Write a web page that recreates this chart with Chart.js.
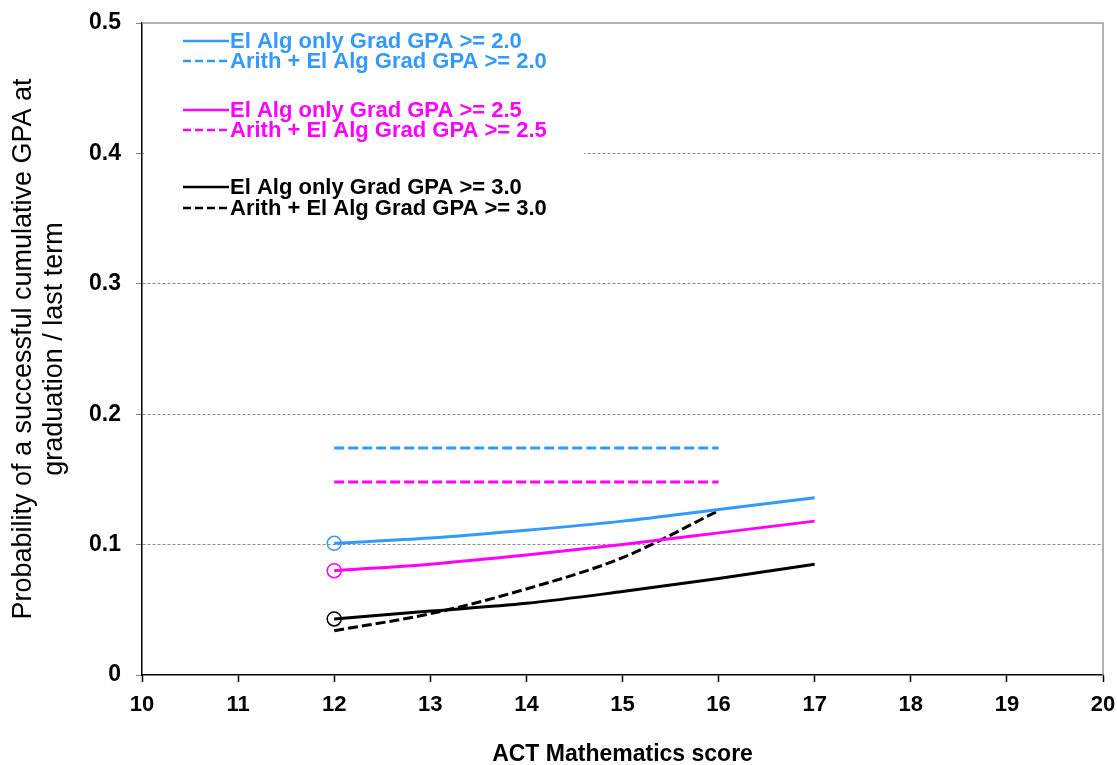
<!DOCTYPE html>
<html lang="en">
<head>
  <meta charset="UTF-8" />
  <title>Probability of a successful GPA by ACT Math score</title>
  <script src="https://cdn.jsdelivr.net/npm/chart.js"></script>
  <style>
    html, body { margin: 0; padding: 0; background: #fff; }
    .chart-container { width: 1117px; height: 765px; }
  </style>
</head>
<body>
<div class="chart-container">
  <canvas id="gpaChart"></canvas>
</div>

<script>
  // ACT math scores used for each series
  const scoresFull = [12, 13, 14, 15, 16, 17];
  const scoresArith = [12, 13, 14, 15, 16];

  // Probabilities
  const elAlg20 = [0.101, 0.105, 0.111, 0.118, 0.127, 0.136];
  const arith20 = [0.174, 0.174, 0.174, 0.174, 0.174];
  const elAlg25 = [0.080, 0.085, 0.092, 0.100, 0.109, 0.118];
  const arith25 = [0.148, 0.148, 0.148, 0.148, 0.148];
  const elAlg30 = [0.043, 0.049, 0.055, 0.064, 0.074, 0.085];
  const arith30 = [0.034, 0.047, 0.066, 0.090, 0.126];

  const blue = "#3399ff";
  const pink = "#ff00ff";
  const black = "#000000";
  const FONT = "'Liberation Sans', Arial, sans-serif";

  const toPoints = (xs, ys) => xs.map((x, i) => ({ x: x, y: ys[i] }));

  function solid(label, color, ys) {
    return {
      label: label,
      data: toPoints(scoresFull, ys),
      borderColor: color,
      borderWidth: 3,
      cubicInterpolationMode: "monotone",
      pointRadius: ys.map((v, i) => i === 0 ? 7 : 0),
      pointBorderWidth: 1.5,
      pointBorderColor: color,
      pointBackgroundColor: "rgba(0,0,0,0)",
      fill: false
    };
  }

  function dashed(label, color, ys) {
    return {
      label: label,
      data: toPoints(scoresArith, ys),
      borderColor: color,
      borderWidth: 3,
      borderDash: [10, 4],
      cubicInterpolationMode: "monotone",
      pointRadius: 0,
      fill: false
    };
  }

  const datasets = [
    solid("El Alg only Grad GPA >= 2.0", blue, elAlg20),
    dashed("Arith + El Alg Grad GPA >= 2.0", blue, arith20),
    solid("El Alg only Grad GPA >= 2.5", pink, elAlg25),
    dashed("Arith + El Alg Grad GPA >= 2.5", pink, arith25),
    solid("El Alg only Grad GPA >= 3.0", black, elAlg30),
    dashed("Arith + El Alg Grad GPA >= 3.0", black, arith30)
  ];

  // top/right gray frame and the boxed legend in the upper left
  const frameAndLegend = {
    id: "frameAndLegend",
    afterDraw(chart) {
      const ctx = chart.ctx;
      const a = chart.chartArea;
      ctx.save();
      ctx.strokeStyle = "#999";
      ctx.lineWidth = 1.5;
      ctx.beginPath();
      ctx.moveTo(a.left, a.top);
      ctx.lineTo(a.right, a.top);
      ctx.lineTo(a.right, a.bottom);
      ctx.stroke();

      // white box hides the grid behind the legend
      ctx.fillStyle = "#fff";
      ctx.fillRect(a.left + 2, a.top + 3, 440, 200);

      const rowsY = [41, 61, 110, 130, 187, 208];
      ctx.font = "bold 22px " + FONT;
      ctx.textBaseline = "middle";
      chart.data.datasets.forEach((ds, i) => {
        const y = rowsY[i];
        ctx.strokeStyle = ds.borderColor;
        ctx.lineWidth = 2.5;
        ctx.setLineDash(ds.borderDash ? [8, 4] : []);
        ctx.beginPath();
        ctx.moveTo(183, y);
        ctx.lineTo(229, y);
        ctx.stroke();
        ctx.setLineDash([]);
        ctx.fillStyle = ds.borderColor;
        ctx.fillText(ds.label, 230, y + 1);
      });
      ctx.restore();
    }
  };

  const ctx = document.getElementById("gpaChart").getContext("2d");
  new Chart(ctx, {
    type: "line",
    data: { datasets: datasets },
    plugins: [frameAndLegend],
    options: {
      responsive: true,
      maintainAspectRatio: false,
      animation: false,
      layout: { padding: { top: 23, right: 14, left: 0, bottom: 0 } },
      plugins: {
        legend: { display: false },
        tooltip: { enabled: false }
      },
      scales: {
        x: {
          type: "linear",
          min: 10,
          max: 20,
          ticks: {
            stepSize: 1,
            color: "#000",
            font: { family: FONT, size: 22, weight: "bold" },
            padding: 10
          },
          grid: { drawOnChartArea: false, tickColor: "#000", tickLength: 7, tickWidth: 1.5 },
          border: { color: "#000", width: 1.5 },
          title: {
            display: true,
            text: "ACT Mathematics score",
            color: "#000",
            font: { family: FONT, size: 23, weight: "bold" },
            padding: { top: 14, bottom: -3 }
          },
          afterFit: s => {
            s.height = 90;
            s.paddingLeft = 0;
            s.paddingRight = 0;
          }
        },
        y: {
          min: 0,
          max: 0.5,
          ticks: {
            stepSize: 0.1,
            color: "#000",
            font: { family: FONT, size: 23, weight: "bold" },
            padding: 15,
            callback: v => v === 0 ? "0" : v.toFixed(1)
          },
          grid: {
            color: c => (c.tick && (c.tick.value === 0 || c.tick.value === 0.5)) ? "rgba(0,0,0,0)" : "#888",
            lineWidth: 1,
            tickColor: "#888",
            tickLength: 6
          },
          border: { color: "#000", width: 1.5, dash: [3, 2] },
          title: {
            display: true,
            text: ["Probability of a successful cumulative GPA at", "graduation / last term"],
            color: "#000",
            font: { family: FONT, size: 27, weight: "normal", lineHeight: 1.15 },
            padding: { top: 8, bottom: 0 }
          },
          afterFit: s => {
            s.width = 142;
            s.paddingTop = 0;
            s.paddingBottom = 0;
          }
        }
      }
    }
  });
</script>
</body>
</html>
